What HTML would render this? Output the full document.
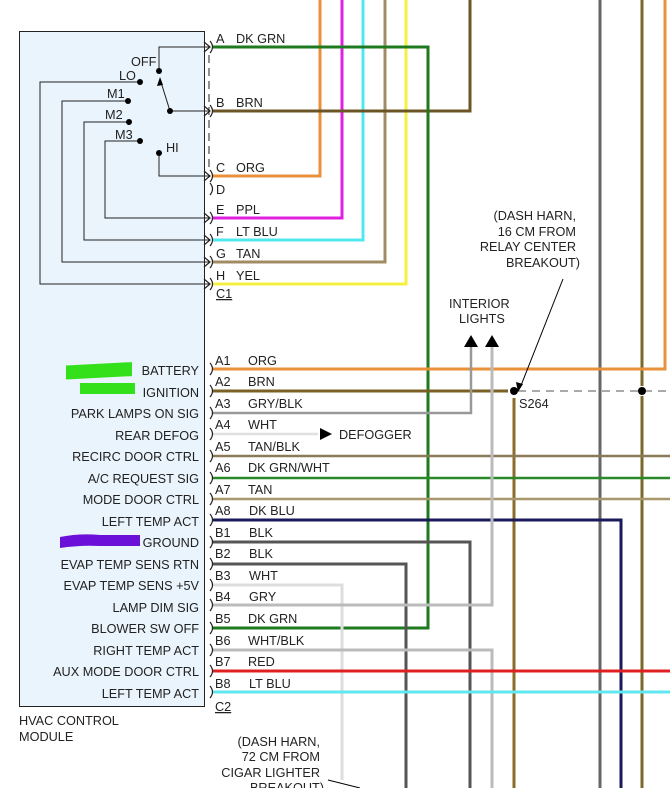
<!DOCTYPE html>
<html><head><style>
html,body{margin:0;padding:0;background:#fff;}
svg{display:block;font-family:"Liberation Sans",Arial,sans-serif;}
</style></head><body>
<svg width="670" height="788" viewBox="0 0 670 788" xmlns="http://www.w3.org/2000/svg">
<rect x="19.5" y="31.5" width="185" height="675" fill="#eaf4fc" stroke="#222" stroke-width="1"/>
<g fill="none" stroke-width="3">
<polyline points="320,0 320,176 212,176" stroke="#e8903a"/>
<polyline points="342,0 342,218 212,218" stroke="#e020e0"/>
<polyline points="363,0 363,240 212,240" stroke="#50e8f0"/>
<polyline points="385,0 385,262 212,262" stroke="#a08c64"/>
<polyline points="406,0 406,284 212,284" stroke="#f5f040"/>
<polyline points="470,0 470,111 212,111" stroke="#6b5525"/>
<polyline points="212,47 428,47 428,628 212,628" stroke="#1e7a1e"/>
<line x1="600" y1="0" x2="600" y2="788" stroke="#666"/>
<line x1="642" y1="0" x2="642" y2="386" stroke="#7a6a2a"/>
<line x1="642" y1="396" x2="642" y2="788" stroke="#7a6a2a"/>
<polyline points="665,0 665,369 212,369" stroke="#e8903a"/>
<line x1="212" y1="391" x2="508" y2="391" stroke="#7a6025"/>
<line x1="514" y1="398" x2="514" y2="788" stroke="#8a6d2a"/>
<polyline points="212,413 471,413 471,346" stroke="#999" stroke-width="2.5"/>
<line x1="212" y1="434" x2="318" y2="434" stroke="#e0e0e0" stroke-width="2.5"/>
<line x1="212" y1="456" x2="670" y2="456" stroke="#8a7a5a" stroke-width="2.5"/>
<line x1="212" y1="478" x2="670" y2="478" stroke="#2a8a2a" stroke-width="2.5"/>
<line x1="212" y1="499" x2="670" y2="499" stroke="#a8966c" stroke-width="2.5"/>
<polyline points="212,520 621,520 621,788" stroke="#1a1a5a"/>
<polyline points="212,542 470,542 470,788" stroke="#555"/>
<polyline points="212,564 406,564 406,788" stroke="#555"/>
<polyline points="212,585 342,585 342,780" stroke="#ddd"/>
<polyline points="212,605 492,605 492,346" stroke="#bbb"/>
<polyline points="212,650 492,650 492,788" stroke="#bbb"/>
<line x1="212" y1="671" x2="670" y2="671" stroke="#e02020"/>
<line x1="212" y1="692" x2="670" y2="692" stroke="#60e8f0"/>
</g>
<line x1="518" y1="391" x2="670" y2="391" stroke="#555" stroke-dasharray="8,6"/>
<circle cx="514" cy="391" r="4" fill="#000"/>
<circle cx="642" cy="391" r="4" fill="#000"/>
<polygon points="464,347 478,347 471,335" fill="#000"/>
<polygon points="485,347 499,347 492,335" fill="#000"/>
<polygon points="320,428 320,440 332,434" fill="#000"/>
<line x1="563" y1="279" x2="520" y2="388" stroke="#000"/>
<polygon points="518,392 516,382 523,384" fill="#000"/>
<line x1="328" y1="780" x2="360" y2="788" stroke="#000"/>
<g stroke="#222" stroke-width="1" fill="none">
<polyline points="159,71 159,47 210,47"/>
<polyline points="170,111 210,111"/>
<polyline points="159,153 159,176 210,176"/>
<polyline points="140,141 105,141 105,218 210,218"/>
<polyline points="129,122 84,122 84,240 210,240"/>
<polyline points="128,101 62,101 62,262 210,262"/>
<polyline points="140,82 40,82 40,284 210,284"/>
<line x1="170" y1="111" x2="160" y2="79"/>
<g stroke-width="1.2">
<polyline points="204,42 210,47 204,52"/><polyline points="204,106 210,111 204,116"/>
<polyline points="204,171 210,176 204,181"/><polyline points="204,213 210,218 204,223"/>
<polyline points="204,235 210,240 204,245"/><polyline points="204,257 210,262 204,267"/>
<polyline points="204,279 210,284 204,289"/>
</g>
<line x1="209" y1="55" x2="209" y2="170" stroke-dasharray="8,5"/>
<g stroke-width="1.2">
<path d="M210,41 q5,6 0,12"/><path d="M210,105 q5,6 0,12"/><path d="M210,170 q5,6 0,12"/>
<path d="M210,183 q5,6 0,12"/><path d="M210,212 q5,6 0,12"/><path d="M210,234 q5,6 0,12"/>
<path d="M210,256 q5,6 0,12"/><path d="M210,278 q5,6 0,12"/>
<path d="M210,363 q5,6 0,12"/><path d="M210,385 q5,6 0,12"/><path d="M210,407 q5,6 0,12"/>
<path d="M210,428 q5,6 0,12"/><path d="M210,450 q5,6 0,12"/><path d="M210,472 q5,6 0,12"/>
<path d="M210,493 q5,6 0,12"/><path d="M210,514 q5,6 0,12"/><path d="M210,536 q5,6 0,12"/>
<path d="M210,558 q5,6 0,12"/><path d="M210,579 q5,6 0,12"/><path d="M210,599 q5,6 0,12"/>
<path d="M210,622 q5,6 0,12"/><path d="M210,644 q5,6 0,12"/><path d="M210,665 q5,6 0,12"/>
<path d="M210,686 q5,6 0,12"/>
</g>
</g>
<polygon points="160,77 157,86 163,85" fill="#000"/>
<g fill="#000"><circle cx="159" cy="71" r="3"/><circle cx="140" cy="82" r="3"/><circle cx="128" cy="101" r="3"/>
<circle cx="129" cy="122" r="3"/><circle cx="140" cy="141" r="3"/><circle cx="159" cy="153" r="3"/><circle cx="170" cy="111" r="3"/></g>
<g font-size="12.7" fill="#222">
<text x="131" y="66">OFF</text><text x="119" y="80">LO</text><text x="107" y="98">M1</text>
<text x="105" y="119">M2</text><text x="115" y="139">M3</text><text x="166" y="152">HI</text>
<text x="216" y="43">A</text><text x="236" y="43">DK GRN</text>
<text x="216" y="107">B</text><text x="236" y="107">BRN</text>
<text x="216" y="172">C</text><text x="236" y="172">ORG</text>
<text x="216" y="194">D</text>
<text x="216" y="214">E</text><text x="236" y="214">PPL</text>
<text x="216" y="236">F</text><text x="236" y="236">LT BLU</text>
<text x="216" y="258">G</text><text x="236" y="258">TAN</text>
<text x="216" y="280">H</text><text x="236" y="280">YEL</text>
<text x="216" y="298" text-decoration="underline">C1</text>
</g>
<rect x="66" y="365" width="66" height="14" fill="#33e01a" transform="skewY(-3) translate(0,4)"/>
<rect x="80" y="383" width="55" height="11" fill="#33e01a"/>
<path d="M60,537 Q80,533 100,535 L140,535 L140,546 L100,546 Q80,545 60,548 Z" fill="#6a10d8"/>
<g font-size="12.7" fill="#222" text-anchor="end">
<text x="199" y="375">BATTERY</text><text x="199" y="397">IGNITION</text>
<text x="199" y="418">PARK LAMPS ON SIG</text><text x="199" y="440">REAR DEFOG</text>
<text x="199" y="461">RECIRC DOOR CTRL</text><text x="199" y="483">A/C REQUEST SIG</text>
<text x="199" y="504">MODE DOOR CTRL</text><text x="199" y="526">LEFT TEMP ACT</text>
<text x="199" y="547">GROUND</text><text x="199" y="569">EVAP TEMP SENS RTN</text>
<text x="199" y="590">EVAP TEMP SENS +5V</text><text x="199" y="612">LAMP DIM SIG</text>
<text x="199" y="633">BLOWER SW OFF</text><text x="199" y="655">RIGHT TEMP ACT</text>
<text x="199" y="676">AUX MODE DOOR CTRL</text><text x="199" y="698">LEFT TEMP ACT</text>
</g>
<g font-size="12.7" fill="#222">
<text x="215" y="365">A1</text><text x="248" y="365">ORG</text>
<text x="215" y="386">A2</text><text x="248" y="386">BRN</text>
<text x="215" y="408">A3</text><text x="248" y="408">GRY/BLK</text>
<text x="215" y="429">A4</text><text x="248" y="429">WHT</text>
<text x="215" y="451">A5</text><text x="248" y="451">TAN/BLK</text>
<text x="215" y="472">A6</text><text x="248" y="472">DK GRN/WHT</text>
<text x="215" y="494">A7</text><text x="248" y="494">TAN</text>
<text x="215" y="515">A8</text><text x="249" y="515">DK BLU</text>
<text x="215" y="537">B1</text><text x="249" y="537">BLK</text>
<text x="215" y="558">B2</text><text x="249" y="558">BLK</text>
<text x="215" y="580">B3</text><text x="249" y="580">WHT</text>
<text x="215" y="601">B4</text><text x="249" y="601">GRY</text>
<text x="215" y="623">B5</text><text x="248" y="623">DK GRN</text>
<text x="215" y="645">B6</text><text x="248" y="645">WHT/BLK</text>
<text x="215" y="666">B7</text><text x="248" y="666">RED</text>
<text x="215" y="688">B8</text><text x="249" y="688">LT BLU</text>
<text x="215" y="711" text-decoration="underline">C2</text>
<text x="19" y="725">HVAC CONTROL</text><text x="19" y="741">MODULE</text>
<text x="339" y="439">DEFOGGER</text>
<text x="519" y="408">S264</text>
<text x="449" y="308">INTERIOR</text><text x="459" y="323">LIGHTS</text>
</g>
<g font-size="12.7" fill="#222" text-anchor="end">
<text x="576" y="220">(DASH HARN,</text><text x="576" y="236">16 CM FROM</text>
<text x="576" y="251">RELAY CENTER</text><text x="580" y="267">BREAKOUT)</text>
<text x="320" y="746">(DASH HARN,</text><text x="320" y="761">72 CM FROM</text>
<text x="320" y="777">CIGAR LIGHTER</text><text x="324" y="792">BREAKOUT)</text>
</g>
</svg>
</body></html>
